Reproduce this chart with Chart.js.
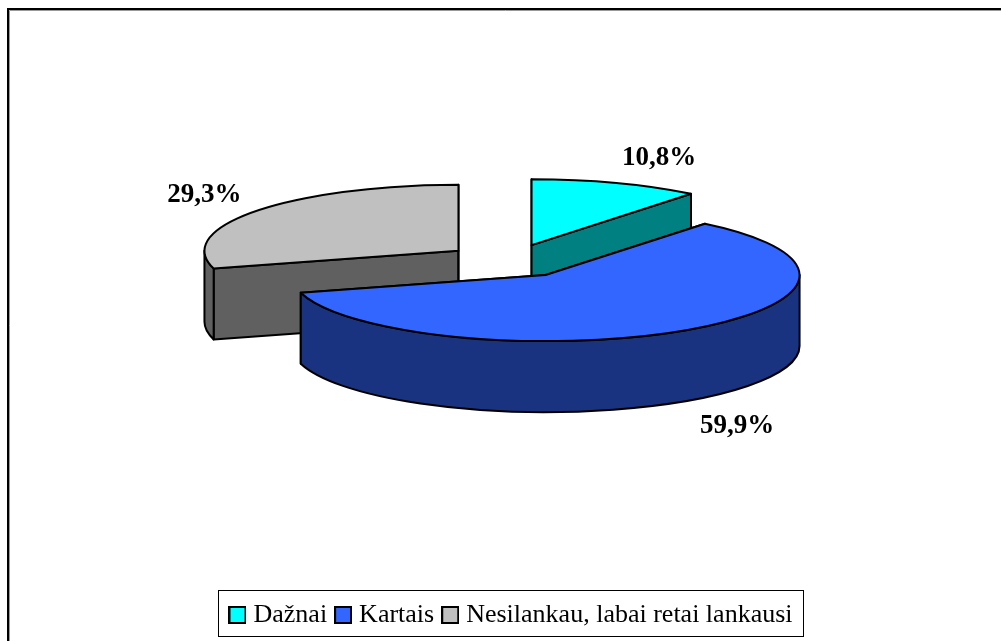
<!DOCTYPE html>
<html><head><meta charset="utf-8">
<style>html,body{margin:0;padding:0;background:#fff;overflow:hidden}canvas{display:block}</style>
<script src="https://cdn.jsdelivr.net/npm/chart.js@4"></script>
</head><body><canvas id="c" width="1001" height="641"></canvas>
<script>
const categories = ['Dažnai', 'Kartais', 'Nesilankau, labai retai lankausi'];
const values = [10.8, 59.9, 29.3];
const valueLabels = ['10,8%', '59,9%', '29,3%'];
const topColors = ['#00FFFF', '#3366FF', '#C0C0C0'];
const sideColors = ['#008080', '#1A3380', '#606060'];

const PIE = {cx: 510, cy: 261, rx: 254, ry: 66, depth: 71};
const EXPLODE = 0.255;
const LABEL_NUDGE = [[43, -25], [52, 96], [-52, -16]];
const PAINT_ORDER = [2, 0, 1];
const SERIF = '"Liberation Serif", "Times New Roman", serif';

function swatch(color) {
  const s = document.createElement('canvas');
  s.width = 18; s.height = 18;
  const g = s.getContext('2d');
  g.fillStyle = color; g.fillRect(1, 1, 16, 16);
  g.strokeStyle = '#000'; g.lineWidth = 2; g.strokeRect(1, 1, 16, 16);
  return s;
}

function sliceGeom(arc) {
  const p = arc.getProps(['startAngle', 'endAngle', 'outerRadius']);
  const mid = (p.startAngle + p.endAngle) / 2;
  const cx = PIE.cx + Math.cos(mid) * EXPLODE * PIE.rx;
  const cy = PIE.cy + Math.sin(mid) * EXPLODE * PIE.ry;
  return {cx, cy, s: p.startAngle, e: p.endAngle, mid};
}
function rim(g, a) {
  return [g.cx + PIE.rx * Math.cos(a), g.cy + PIE.ry * Math.sin(a)];
}

const pie3d = {
  id: 'pie3d',
  beforeDraw(chart) {
    const ctx = chart.ctx;
    ctx.save();
    ctx.fillStyle = '#fff';
    ctx.fillRect(0, 0, 1001, 641);
    // outer frame
    ctx.strokeStyle = '#999'; ctx.lineWidth = 1;
    ctx.beginPath(); ctx.moveTo(9.5, 641); ctx.lineTo(9.5, 10.5); ctx.lineTo(1001, 10.5); ctx.stroke();
    ctx.strokeStyle = '#000'; ctx.lineWidth = 2;
    ctx.beginPath(); ctx.moveTo(8, 641); ctx.lineTo(8, 9); ctx.lineTo(1001, 9); ctx.stroke();
    // legend box
    const hb = chart.legend.legendHitBoxes;
    if (hb && hb.length) {
      const l = hb[0].left - 16, r = hb[hb.length - 1].left + hb[hb.length - 1].width + 11;
      const t = hb[0].top - 12, b = t + 46;
      ctx.strokeStyle = '#000'; ctx.lineWidth = 1;
      ctx.strokeRect(Math.round(l) + .5, Math.round(t) + .5, Math.round(r - l), Math.round(b - t));
    }
    ctx.restore();
  },
  beforeDatasetDraw(chart) {
    const ctx = chart.ctx;
    const arcs = chart.getDatasetMeta(0).data;
    ctx.save();
    ctx.lineWidth = 2;
    ctx.lineJoin = 'round';
    ctx.strokeStyle = '#000';
    PAINT_ORDER.forEach(i => {
      const g = sliceGeom(arcs[i]);
      const d = PIE.depth;
      // flat cut walls
      ctx.fillStyle = sideColors[i];
      [g.s, g.e].forEach(a => {
        const q = rim(g, a);
        ctx.beginPath();
        ctx.moveTo(g.cx, g.cy);
        ctx.lineTo(q[0], q[1]);
        ctx.lineTo(q[0], q[1] + d);
        ctx.lineTo(g.cx, g.cy + d);
        ctx.closePath();
        ctx.fill(); ctx.stroke();
      });
      // outer curved wall (front half only)
      for (let k = -1; k <= 1; k++) {
        const a = Math.max(g.s, 2 * k * Math.PI);
        const b = Math.min(g.e, (2 * k + 1) * Math.PI);
        if (b > a) {
          ctx.beginPath();
          ctx.ellipse(g.cx, g.cy, PIE.rx, PIE.ry, 0, a, b);
          ctx.ellipse(g.cx, g.cy + d, PIE.rx, PIE.ry, 0, b, a, true);
          ctx.closePath();
          ctx.fill(); ctx.stroke();
        }
      }
      // top face
      ctx.fillStyle = topColors[i];
      ctx.beginPath();
      ctx.moveTo(g.cx, g.cy);
      ctx.ellipse(g.cx, g.cy, PIE.rx, PIE.ry, 0, g.s, g.e);
      ctx.closePath();
      ctx.fill(); ctx.stroke();
    });
    // value labels
    ctx.fillStyle = '#000';
    ctx.font = 'bold 27px ' + SERIF;
    ctx.textAlign = 'center';
    ctx.textBaseline = 'middle';
    arcs.forEach((arc, i) => {
      const g = sliceGeom(arc);
      const q = rim(g, g.mid);
      ctx.fillText(valueLabels[i], q[0] + LABEL_NUDGE[i][0], q[1] + LABEL_NUDGE[i][1]);
    });
    ctx.restore();
    return false;
  }
};

new Chart(document.getElementById('c'), {
  type: 'pie',
  data: {
    labels: categories,
    datasets: [{data: values, backgroundColor: topColors, borderWidth: 0}]
  },
  options: {
    responsive: false,
    animation: false,
    events: [],
    layout: {padding: {left: 26, right: 0, top: 0, bottom: 3}},
    plugins: {
      tooltip: {enabled: false},
      legend: {
        position: 'bottom',
        labels: {
          color: '#000',
          font: {family: SERIF, size: 26},
          padding: 13,
          boxWidth: 6,
          boxHeight: 18,
          usePointStyle: true,
          generateLabels(chart) {
            return Chart.overrides.pie.plugins.legend.labels.generateLabels(chart).map((it, i) => {
              it.pointStyle = swatch(topColors[i]);
              it.strokeStyle = 'transparent';
              return it;
            });
          }
        }
      }
    }
  },
  plugins: [pie3d]
});
</script></body></html>
